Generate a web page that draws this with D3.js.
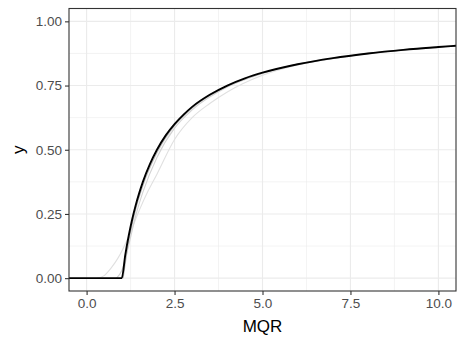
<!DOCTYPE html>
<html><head><meta charset="utf-8">
<script src="https://cdn.jsdelivr.net/npm/d3@7"></script>
<style>body{margin:0;background:#fff}svg{display:block}text{font-family:"Liberation Sans",Arial,Helvetica,sans-serif}</style>
</head><body><svg id="c" width="465" height="341"></svg>
<script>
// Data
const xTicks = [0, 2.5, 5, 7.5, 10];
const xTickLabels = ["0.0", "2.5", "5.0", "7.5", "10.0"];
const yTicks = [0, 0.25, 0.5, 0.75, 1];
const yTickLabels = ["0.00", "0.25", "0.50", "0.75", "1.00"];
const xMinor = [1.25, 3.75, 6.25, 8.75];
const yMinor = [0.125, 0.375, 0.625, 0.875];

// main (black) curve
const mainX = [-0.5, 0, 0.5, 1, 1.1, 1.2, 1.3, 1.4, 1.5, 1.6, 1.8, 2, 2.25, 2.5, 2.75, 3, 3.5, 4, 4.5, 5, 6, 7, 8, 9, 10, 10.5];
const mainY = [0, 0, 0, 0, 0.091, 0.167, 0.231, 0.286, 0.333, 0.375, 0.444, 0.5, 0.556, 0.6, 0.636, 0.667, 0.714, 0.75, 0.778, 0.8, 0.833, 0.857, 0.875, 0.889, 0.9, 0.905];

// light grey curves
const greyAX = [0.3, 0.5, 0.7, 0.9, 1.0, 1.25, 1.5, 1.75, 2.0, 2.5, 3.0, 3.5, 4, 5, 6, 7.5, 10, 10.5];
const greyAY = [0, 0.01, 0.04, 0.08, 0.105, 0.18, 0.265, 0.34, 0.405, 0.54, 0.625, 0.68, 0.725, 0.79, 0.83, 0.865, 0.9, 0.905];
const greyBX = [1.04, 1.2, 1.4, 1.6, 2, 2.5, 3, 4, 5, 7.5, 10, 10.5];
const greyBY = [0, 0.145, 0.27, 0.36, 0.488, 0.594, 0.662, 0.748, 0.799, 0.866, 0.9, 0.905];
const greyCX = [0.85, 1.0, 1.2, 1.4, 1.6, 2, 2.5, 3, 4, 5, 7.5, 10, 10.5];
const greyCY = [0, 0.03, 0.13, 0.245, 0.335, 0.47, 0.584, 0.655, 0.744, 0.797, 0.865, 0.9, 0.905];

const svg = d3.select("#c");
const L = 69, R = 456, T = 8.5, B = 291;
const x = d3.scaleLinear().domain([-0.5, 10.5]).range([L, R]);
const y = d3.scaleLinear().domain([-0.05, 1.05]).range([B, T]);

svg.append("defs").append("clipPath").attr("id", "clip")
  .append("rect").attr("x", L).attr("y", T).attr("width", R - L).attr("height", B - T);

const g = svg.append("g");
// minor grid
g.selectAll(".xm").data(xMinor).enter().append("line")
  .attr("x1", d => x(d)).attr("x2", d => x(d)).attr("y1", T).attr("y2", B)
  .attr("stroke", "#ebebeb").attr("stroke-width", 0.6);
g.selectAll(".ym").data(yMinor).enter().append("line")
  .attr("y1", d => y(d)).attr("y2", d => y(d)).attr("x1", L).attr("x2", R)
  .attr("stroke", "#ebebeb").attr("stroke-width", 0.6);
// major grid
g.selectAll(".xg").data(xTicks).enter().append("line")
  .attr("x1", d => x(d)).attr("x2", d => x(d)).attr("y1", T).attr("y2", B)
  .attr("stroke", "#ebebeb").attr("stroke-width", 1.1);
g.selectAll(".yg").data(yTicks).enter().append("line")
  .attr("y1", d => y(d)).attr("y2", d => y(d)).attr("x1", L).attr("x2", R)
  .attr("stroke", "#ebebeb").attr("stroke-width", 1.1);

const line = d3.line().x(d => x(d[0])).y(d => y(d[1])).curve(d3.curveMonotoneX);
const lines = svg.append("g").attr("clip-path", "url(#clip)");
lines.append("path").datum(d3.zip(greyAX, greyAY)).attr("d", line)
  .attr("fill", "none").attr("stroke", "#e0e0e0").attr("stroke-width", 1.1);
lines.append("path").datum(d3.zip(greyCX, greyCY)).attr("d", line)
  .attr("fill", "none").attr("stroke", "#d2d2d2").attr("stroke-width", 1.1);
lines.append("path").datum(d3.zip(greyBX, greyBY)).attr("d", line)
  .attr("fill", "none").attr("stroke", "#c0c0c0").attr("stroke-width", 1.1);
lines.append("path").datum(d3.zip(mainX, mainY)).attr("d", line)
  .attr("fill", "none").attr("stroke", "#000").attr("stroke-width", 1.9);

// panel border
svg.append("rect").attr("x", L).attr("y", T).attr("width", R - L).attr("height", B - T)
  .attr("fill", "none").attr("stroke", "#333").attr("stroke-width", 1.1);

// axes
const xAxis = d3.axisBottom(x).tickValues(xTicks).tickFormat((d, i) => xTickLabels[i]).tickSize(4).tickPadding(3);
const yAxis = d3.axisLeft(y).tickValues(yTicks).tickFormat((d, i) => yTickLabels[i]).tickSize(4).tickPadding(3);
const gx = svg.append("g").attr("transform", `translate(0,${B})`).call(xAxis);
const gy = svg.append("g").attr("transform", `translate(${L},0)`).call(yAxis);
[gx, gy].forEach(a => {
  a.select(".domain").remove();
  a.selectAll(".tick line").attr("stroke", "#333").attr("stroke-width", 1.1);
  a.selectAll(".tick text").attr("fill", "#4d4d4d").style("font-size", "13.5px");
});

svg.append("text").attr("x", (L + R) / 2).attr("y", 332).attr("text-anchor", "middle")
  .style("font-size", "17px").attr("fill", "#000").text("MQR");
svg.append("text").attr("transform", `translate(24,${(T + B) / 2}) rotate(-90)`).attr("text-anchor", "middle")
  .style("font-size", "17px").attr("fill", "#000").text("y");
</script></body></html>
